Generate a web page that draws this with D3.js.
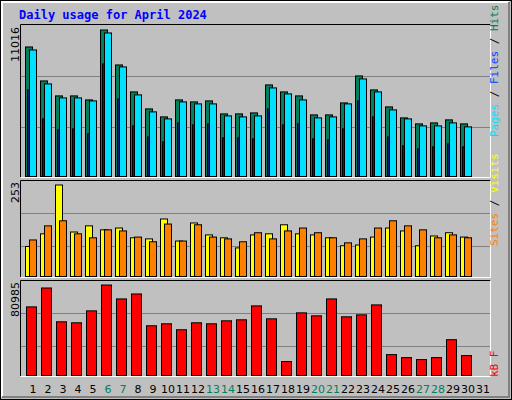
<!DOCTYPE html><html><head><meta charset="utf-8">
<script src="https://cdn.jsdelivr.net/npm/d3@7"></script>
<style>body{margin:0;background:#fff}</style></head><body><svg id="c" width="512" height="400"></svg>
<script>
const days=d3.range(1,32);
const weekends=[6,7,13,14,20,21,27,28];
const hits=[9740,7186,6060,6060,5759,11016,8388,6360,5083,4482,5759,5609,5684,4707,4707,4782,6886,6360,6060,4632,4632,5534,7562,6510,5233,4407,3956,4031,4257,3956];
const files=[9515,6961,5909,5909,5684,10792,8238,6135,4858,4332,5609,5459,5459,4557,4482,4557,6661,6210,5759,4407,4482,5459,7337,6360,5008,4332,3806,3806,4031,3731];
const pages=[6510,4332,3506,3581,3205,8464,5834,3806,2980,2604,4031,3881,3956,2905,2905,2830,5083,3881,3956,2830,2754,3581,5684,4482,2980,2304,2078,2229,2454,2229];
const visits=[83,118,253,123,140,129,134,107,104,159,98,148,115,107,79,115,118,143,118,115,107,85,87,109,134,126,85,112,121,109];
const sites=[101,140,154,118,107,129,126,109,96,145,98,143,109,104,96,121,104,126,134,121,107,93,104,134,154,140,129,107,115,107];
const kbytes=[61396,78302,48049,47159,57837,80985,68515,72964,44490,46270,40931,47159,46270,48939,49829,62286,50719,12457,56057,53388,68515,52498,54278,63176,18686,16016,14237,16016,32033,17796];

const svg=d3.select("#c");
svg.append("rect").attr("x",0).attr("y",0).attr("width",512).attr("height",400).attr("fill","#c0c0c0");
svg.append("rect").attr("x",0.5).attr("y",0.5).attr("width",511).attr("height",399).attr("fill","none").attr("stroke","#000");
svg.append("path").attr("d","M2,397V2H509").attr("stroke","#fff").attr("fill","none").attr("stroke-width",2);
svg.append("path").attr("d","M2,397H509V2").attr("stroke","#808080").attr("fill","none").attr("stroke-width",2);
svg.append("text").attr("x",19).attr("y",19).text("Daily usage for April 2024")
 .attr("font-family","DejaVu Sans Mono").attr("font-weight","bold").attr("font-size",12).attr("fill","#0000ff");

const x=d3.scaleLinear().domain([1,32]).range([20,485]);
function panel(top,bottom,grid){
  svg.append("path").attr("d",`M20.5,${bottom}V${top+0.5}H490.5`).attr("stroke","#000").attr("fill","none");
  svg.append("path").attr("d",`M20.5,${bottom+0.5}H490.5V${top+0.5}`).attr("stroke","#fff").attr("fill","none");
  grid.forEach(g=>svg.append("line").attr("x1",21).attr("x2",490).attr("y1",g).attr("y2",g).attr("stroke","#808080").attr("stroke-width",1));
}
function bars(data,y,off,w,color){
  svg.append("g").selectAll("rect").data(data).join("rect")
   .attr("x",(d,i)=>x(i+1)+off+0.5).attr("y",d=>y(d)+0.5).attr("width",w).attr("height",d=>y(0)-y(d))
   .attr("fill",color).attr("stroke","#000").attr("stroke-width",1);
}
// top
panel(24,177,[76.5,127.5]);
const y1=d3.scaleLinear().domain([0,11016]).range([176,29.5]);
bars(hits,y1,5,7,"#00805c");
bars(files,y1,9,7,"#00e0ff");
bars(pages,y1,7,1.5,"#0040ff");
// middle
panel(180,277,[213.5,246.5]);
const y2=d3.scaleLinear().domain([0,253]).range([276,184.5]);
bars(visits,y2,5,7,"#ffff00");
bars(sites,y2,9,7,"#ff8000");
// bottom
panel(280,376,[313.5,346.5]);
const y3=d3.scaleLinear().domain([0,80985]).range([375,284.5]);
bars(kbytes,y3,6,10,"#ff0000");

// day labels
svg.append("g").selectAll("text").data(days).join("text")
 .attr("x",d=>x(d)+13).attr("y",393).attr("text-anchor","middle").text(d=>d)
 .attr("font-family","DejaVu Sans").attr("font-size",11).attr("fill",d=>weekends.includes(d)?"#00805c":"#000");

function ylab(txt,yy){svg.append("text").attr("transform",`translate(19,${yy}) rotate(-90)`).attr("text-anchor","end")
 .text(txt).attr("font-family","DejaVu Sans").attr("font-size",11).attr("fill","#000");}
ylab("11016",27);ylab("253",182);ylab("80985",282);

function rlab(parts,yy){const t=svg.append("text").attr("transform",`translate(497,${yy}) rotate(90)`)
 .attr("font-family","DejaVu Sans Mono").attr("font-size",11);
 parts.forEach(p=>t.append("tspan").text(p[0]).attr("fill",p[1]));}
function rlabEnd(parts,yy){const t=svg.append("text").attr("transform",`translate(498,${yy}) rotate(-90)`)
 .attr("font-family","DejaVu Sans Mono").attr("font-size",11);
 parts.forEach(p=>t.append("tspan").text(p[0]).attr("fill",p[1]));}
rlabEnd([["Pages","#00e0ff"],[" / ","#000"],["Files","#0040ff"],[" / ","#000"],["Hits","#00805c"]],137);
rlabEnd([["Sites","#ff8000"],[" / ","#000"],["Visits","#ffff00"]],246);
rlabEnd([["kB F","#ff0000"]],377);
</script></body></html>
